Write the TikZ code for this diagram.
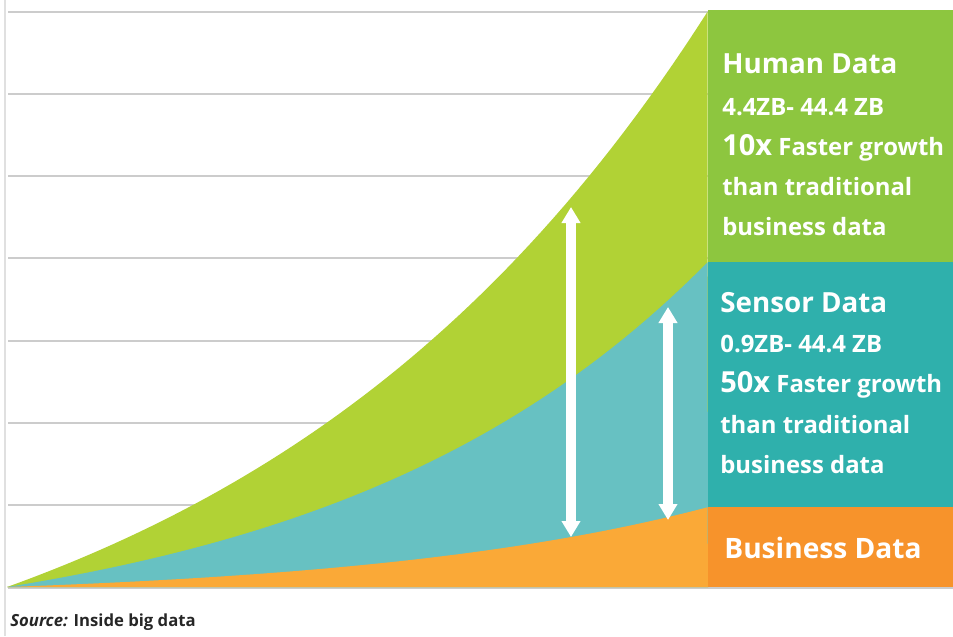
\documentclass[tikz,border=0pt]{standalone}
\usepackage{fontspec}
\setmainfont{Open Sans}
\usetikzlibrary{arrows.meta}

\definecolor{greenarea}{HTML}{B1D235}
\definecolor{greenpanel}{HTML}{8DC63F}
\definecolor{tealarea}{HTML}{67C1C2}
\definecolor{tealpanel}{HTML}{2FB0AC}
\definecolor{orangearea}{HTML}{FAA937}
\definecolor{orangepanel}{HTML}{F7932B}
\definecolor{gridgray}{HTML}{CCCCCC}

\begin{document}
\begin{tikzpicture}[x=0.2mm,y=-0.2mm,
    gridline/.style={gridgray,line width=0.4mm},
    growth/.style={white,line width=2mm,{Triangle[width=3.6mm,length=3.2mm]}-{Triangle[width=3.6mm,length=3.2mm]}},
    title/.style={white,font=\fontsize{15.8}{18}\selectfont\bfseries,anchor=base west,inner sep=0},
    info/.style={white,font=\fontsize{13.6}{16}\selectfont\bfseries,anchor=base west,inner sep=0}]

            \useasboundingbox (0,0) rectangle (953,636);

            % grid
            \draw[gridgray!60,line width=0.4mm] (5,0)--(5,636);
            \foreach \y in {12,94,176,258,341,423,505}{
              \draw[gridline] (8,\y)--(708,\y);
            }
            \draw[gridline] (8,588)--(953,588);

            % stacked areas
            \fill[greenarea] plot[domain=0:1,samples=60,variable=\t] ({7+701*\t},{587-172*(exp(1.47*\t)-1)}) -- (708,587) -- cycle;
            \fill[tealarea] plot[domain=0:1,samples=60,variable=\t] ({7+701*\t},{587-61.4*(exp(1.84*\t)-1)}) -- (708,587) -- cycle;
            \fill[orangearea] plot[domain=0:1,samples=60,variable=\t] ({7+701*\t},{587-12.5*(exp(2*\t)-1)}) -- (708,587) -- cycle;

            % panels
            \fill[greenpanel] (708,10) rectangle (953,262);
            \fill[tealpanel] (708,262) rectangle (953,507);
            \fill[orangepanel] (708,507) rectangle (953,587);

            % arrows
            \coordinate (humantop) at (571,207);
            \coordinate (humanbottom) at (571,537);
            \coordinate (sensortop) at (668,307);
            \coordinate (sensorbottom) at (668,520);
            \draw[growth] (humantop)--(humanbottom);
            \draw[growth] (sensortop)--(sensorbottom);

            \node[title] (human) at (722,73) {Human Data};
            \node[info] (humanrange) at (722,115) {4.4ZB- 44.4 ZB};
            \node[info] (humanrate) at (722,155) {{\fontsize{16.5}{18}\selectfont 10x} Faster growth};
            \node[info] (humanthan) at (722,195) {than traditional};
            \node[info] (humanbiz) at (722,235) {business data};

            \node[title] (sensor) at (720,312) {Sensor Data};
            \node[info] (sensorrange) at (720,352) {0.9ZB- 44.4 ZB};
            \node[info] (sensorrate) at (720,392) {{\fontsize{16.5}{18}\selectfont 50x} Faster growth};
            \node[info] (sensorthan) at (720,433) {than traditional};
            \node[info] (sensorbiz) at (720,473) {business data};

            \node[title,font=\fontsize{16}{18}\selectfont\bfseries] (business) at (724,558) {Business Data};

          \node[anchor=base west,inner sep=0,text=black!85,font=\fontsize{9.5}{11}\selectfont\bfseries] (source) at (10,626) {\textit{Source:} Inside big data};
        \end{tikzpicture}
\end{document}
